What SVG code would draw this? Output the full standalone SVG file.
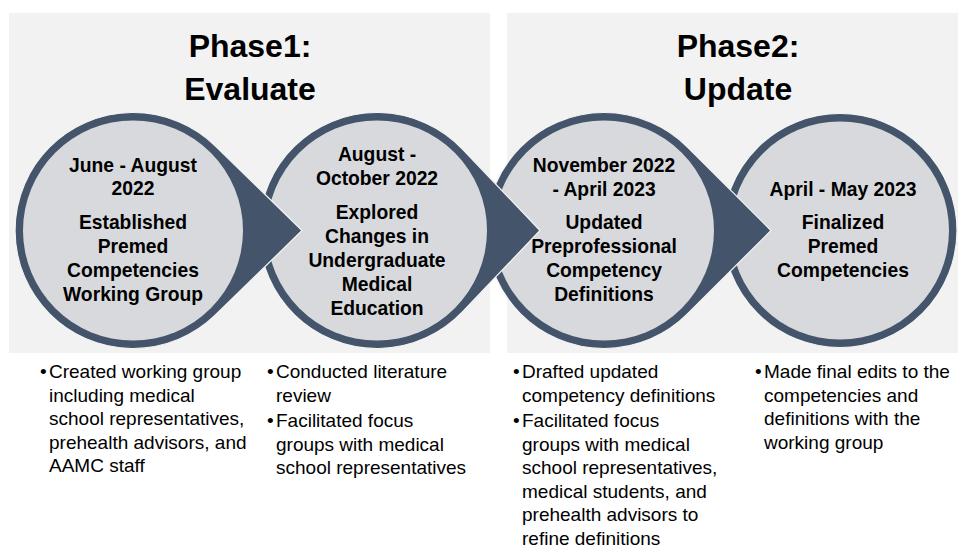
<svg xmlns="http://www.w3.org/2000/svg" width="958" height="547" viewBox="0 0 958 547">
  <style>
    .panel { fill: #f2f2f2; }
    .head { font-family: "Liberation Sans", Arial, sans-serif; font-weight: bold; font-size: 32px; fill: #000; text-anchor: middle; }
    .ring { fill: #44546a; stroke: #f4f4f4; stroke-width: 1.2; }
    .core { fill: #d8d9dc; }
    .lbl { font-family: "Liberation Sans", Arial, sans-serif; font-weight: bold; font-size: 19.3px; fill: #000; text-anchor: middle; }
    .bul { font-family: "Liberation Sans", Arial, sans-serif; font-size: 19px; fill: #000; }
  </style>

  <!-- phase backgrounds -->
  <rect class="panel" x="9" y="13" width="481" height="340"/>
  <rect class="panel" x="507" y="13" width="451" height="340"/>

  <text class="head" x="250" y="57">Phase1:</text>
  <text class="head" x="250" y="100">Evaluate</text>
  <text class="head" x="738" y="57">Phase2:</text>
  <text class="head" x="738" y="100">Update</text>

  <!-- steps drawn last-to-first so each pointer overlaps the next step -->
  <g id="step4">
    <circle class="ring" cx="840" cy="230.5" r="117"/>
    <circle class="core" cx="840" cy="230.5" r="109"/>
    <text class="lbl" x="843" y="196">April - May 2023</text>
    <text class="lbl" x="843" y="229">Finalized</text>
    <text class="lbl" x="843" y="253">Premed</text>
    <text class="lbl" x="843" y="277">Competencies</text>
  </g>

  <g id="step3">
    <path class="ring" d="M771 230.5 L687.4 147 A118 118 0 1 0 687.4 314 Z"/>
    <circle class="core" cx="604" cy="230.5" r="110"/>
    <text class="lbl" x="604" y="172">November 2022</text>
    <text class="lbl" x="604" y="196">- April 2023</text>
    <text class="lbl" x="604" y="229">Updated</text>
    <text class="lbl" x="604" y="253">Preprofessional</text>
    <text class="lbl" x="604" y="277">Competency</text>
    <text class="lbl" x="604" y="301">Definitions</text>
  </g>

  <g id="step2">
    <path class="ring" d="M540 230.5 L462.4 149.1 A118 118 0 1 0 462.4 311.9 Z"/>
    <circle class="core" cx="377" cy="230.5" r="110"/>
    <text class="lbl" x="377" y="161">August -</text>
    <text class="lbl" x="377" y="185">October 2022</text>
    <text class="lbl" x="377" y="219">Explored</text>
    <text class="lbl" x="377" y="243">Changes in</text>
    <text class="lbl" x="377" y="267">Undergraduate</text>
    <text class="lbl" x="377" y="291">Medical</text>
    <text class="lbl" x="377" y="315">Education</text>
  </g>

  <g id="step1">
    <path class="ring" d="M302 230.5 L215.4 146 A118 118 0 1 0 215.4 315 Z"/>
    <circle class="core" cx="133" cy="230.5" r="110"/>
    <text class="lbl" x="133" y="172">June - August</text>
    <text class="lbl" x="133" y="195">2022</text>
    <text class="lbl" x="133" y="229">Established</text>
    <text class="lbl" x="133" y="253">Premed</text>
    <text class="lbl" x="133" y="277">Competencies</text>
    <text class="lbl" x="133" y="301">Working Group</text>
  </g>

  <!-- activity notes under each step -->
  <g id="notes1" class="bul">
    <text x="40" y="378">•</text>
    <text x="49" y="378">Created working group</text>
    <text x="49" y="401.5">including medical</text>
    <text x="49" y="425">school representatives,</text>
    <text x="49" y="448.5">prehealth advisors, and</text>
    <text x="49" y="472">AAMC staff</text>
  </g>
  <g id="notes2" class="bul">
    <text x="267" y="378">•</text>
    <text x="276" y="378">Conducted literature</text>
    <text x="276" y="401.5">review</text>
    <text x="267" y="427">•</text>
    <text x="276" y="427">Facilitated focus</text>
    <text x="276" y="450.5">groups with medical</text>
    <text x="276" y="474">school representatives</text>
  </g>
  <g id="notes3" class="bul">
    <text x="513" y="378">•</text>
    <text x="522" y="378">Drafted updated</text>
    <text x="522" y="401.5">competency definitions</text>
    <text x="513" y="427">•</text>
    <text x="522" y="427">Facilitated focus</text>
    <text x="522" y="450.5">groups with medical</text>
    <text x="522" y="474">school representatives,</text>
    <text x="522" y="497.5">medical students, and</text>
    <text x="522" y="521">prehealth advisors to</text>
    <text x="522" y="544.5">refine definitions</text>
  </g>
  <g id="notes4" class="bul">
    <text x="755" y="378">•</text>
    <text x="764" y="378">Made final edits to the</text>
    <text x="764" y="401.5">competencies and</text>
    <text x="764" y="425">definitions with the</text>
    <text x="764" y="448.5">working group</text>
  </g>
</svg>
